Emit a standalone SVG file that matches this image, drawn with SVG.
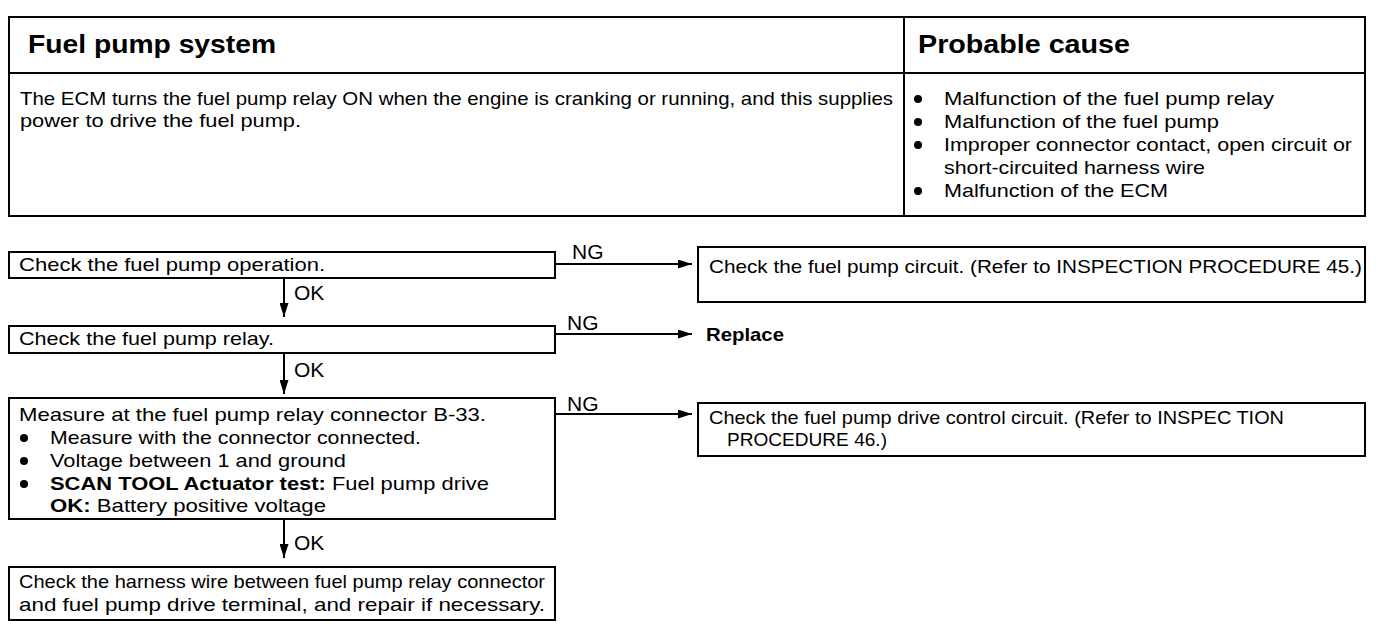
<svg xmlns="http://www.w3.org/2000/svg" width="1392" height="638" viewBox="0 0 1392 638">
<style>
.bx{fill:#fff;stroke:#000;stroke-width:2}
.ln{stroke:#000;stroke-width:2;fill:none}
.t{font-family:"Liberation Sans",Arial,sans-serif;font-size:18.5px;fill:#000}
.b{font-weight:bold}
.h{font-family:"Liberation Sans",Arial,sans-serif;font-size:25px;font-weight:bold;fill:#000}
.lb{font-family:"Liberation Sans",Arial,sans-serif;font-size:21px;fill:#000}
</style>
<defs>
<marker id="ah" viewBox="0 0 14 9" refX="14" refY="4.5" markerWidth="14" markerHeight="9" markerUnits="userSpaceOnUse" orient="auto">
<path d="M0,0 L14,4.5 L0,9 Z" fill="#000"/>
</marker>
</defs>
<rect width="1392" height="638" fill="#fff"/>
<g id="table">
<rect class="bx" x="9" y="17" width="1356" height="199"/>
<line class="ln" x1="9" y1="73" x2="1365" y2="73"/>
<line class="ln" x1="904" y1="17" x2="904" y2="216"/>
<text class="h" x="28" y="53" textLength="248" lengthAdjust="spacingAndGlyphs">Fuel pump system</text>
<text class="h" x="918" y="53" textLength="212" lengthAdjust="spacingAndGlyphs">Probable cause</text>
<text class="t" x="20" y="105" textLength="873" lengthAdjust="spacingAndGlyphs">The ECM turns the fuel pump relay ON when the engine is cranking or running, and this supplies</text>
<text class="t" x="20" y="127" textLength="281" lengthAdjust="spacingAndGlyphs">power to drive the fuel pump.</text>
<circle cx="918" cy="99" r="4"/>
<circle cx="918" cy="122" r="4"/>
<circle cx="918" cy="145" r="4"/>
<circle cx="918" cy="191" r="4"/>
<text class="t" x="944" y="105" textLength="330" lengthAdjust="spacingAndGlyphs">Malfunction of the fuel pump relay</text>
<text class="t" x="944" y="128" textLength="275" lengthAdjust="spacingAndGlyphs">Malfunction of the fuel pump</text>
<text class="t" x="944" y="151" textLength="408" lengthAdjust="spacingAndGlyphs">Improper connector contact, open circuit or</text>
<text class="t" x="944" y="174" textLength="261" lengthAdjust="spacingAndGlyphs">short-circuited harness wire</text>
<text class="t" x="944" y="197" textLength="224" lengthAdjust="spacingAndGlyphs">Malfunction of the ECM</text>
</g>
<g id="connectors">
<line class="ln" x1="555" y1="264" x2="692" y2="264" marker-end="url(#ah)"/>
<line class="ln" x1="555" y1="334" x2="692" y2="334" marker-end="url(#ah)"/>
<line class="ln" x1="555" y1="414" x2="692" y2="414" marker-end="url(#ah)"/>
<line class="ln" x1="284" y1="278" x2="284" y2="317" marker-end="url(#ah)"/>
<line class="ln" x1="284" y1="353" x2="284" y2="394" marker-end="url(#ah)"/>
<line class="ln" x1="284" y1="519" x2="284" y2="558" marker-end="url(#ah)"/>
<text class="lb" x="572" y="259">NG</text>
<text class="lb" x="567" y="330">NG</text>
<text class="lb" x="567" y="411">NG</text>
<text class="lb" x="294" y="300">OK</text>
<text class="lb" x="294" y="377">OK</text>
<text class="lb" x="294" y="550">OK</text>
</g>
<g id="n1">
<rect class="bx" x="9" y="252" width="546" height="26"/>
<text class="t" x="19" y="271" textLength="306" lengthAdjust="spacingAndGlyphs">Check the fuel pump operation.</text>
</g>
<g id="n1ng">
<rect class="bx" x="698" y="247" width="667" height="55"/>
<text class="t" x="709" y="273" textLength="653" lengthAdjust="spacingAndGlyphs">Check the fuel pump circuit. (Refer to INSPECTION PROCEDURE 45.)</text>
</g>
<g id="n2">
<rect class="bx" x="9" y="326" width="546" height="27"/>
<text class="t" x="19" y="345" textLength="255" lengthAdjust="spacingAndGlyphs">Check the fuel pump relay.</text>
</g>
<g id="n2ng">
<text class="t b" x="706" y="341" textLength="78" lengthAdjust="spacingAndGlyphs">Replace</text>
</g>
<g id="n3">
<rect class="bx" x="9" y="398" width="546" height="121"/>
<text class="t" x="19" y="421" textLength="467" lengthAdjust="spacingAndGlyphs">Measure at the fuel pump relay connector B-33.</text>
<circle cx="24" cy="438" r="4"/>
<circle cx="24" cy="461" r="4"/>
<circle cx="24" cy="484" r="4"/>
<text class="t" x="50" y="444" textLength="371" lengthAdjust="spacingAndGlyphs">Measure with the connector connected.</text>
<text class="t" x="50" y="467" textLength="296" lengthAdjust="spacingAndGlyphs">Voltage between 1 and ground</text>
<text class="t" x="50" y="490" textLength="439" lengthAdjust="spacingAndGlyphs"><tspan class="b">SCAN TOOL Actuator test:</tspan> Fuel pump drive</text>
<text class="t" x="50" y="512" textLength="276" lengthAdjust="spacingAndGlyphs"><tspan class="b">OK:</tspan>  Battery positive voltage</text>
</g>
<g id="n3ng">
<rect class="bx" x="698" y="403" width="667" height="53"/>
<text class="t" x="709" y="424" textLength="575" lengthAdjust="spacingAndGlyphs">Check the fuel pump drive control circuit. (Refer to INSPEC TION</text>
<text class="t" x="727" y="446" textLength="160" lengthAdjust="spacingAndGlyphs">PROCEDURE 46.)</text>
</g>
<g id="n4">
<rect class="bx" x="9" y="567" width="546" height="53"/>
<text class="t" x="19" y="588" textLength="526" lengthAdjust="spacingAndGlyphs">Check the harness wire between fuel pump relay connector</text>
<text class="t" x="19" y="611" textLength="526" lengthAdjust="spacingAndGlyphs">and fuel pump drive terminal, and repair if necessary.</text>
</g>
</svg>
